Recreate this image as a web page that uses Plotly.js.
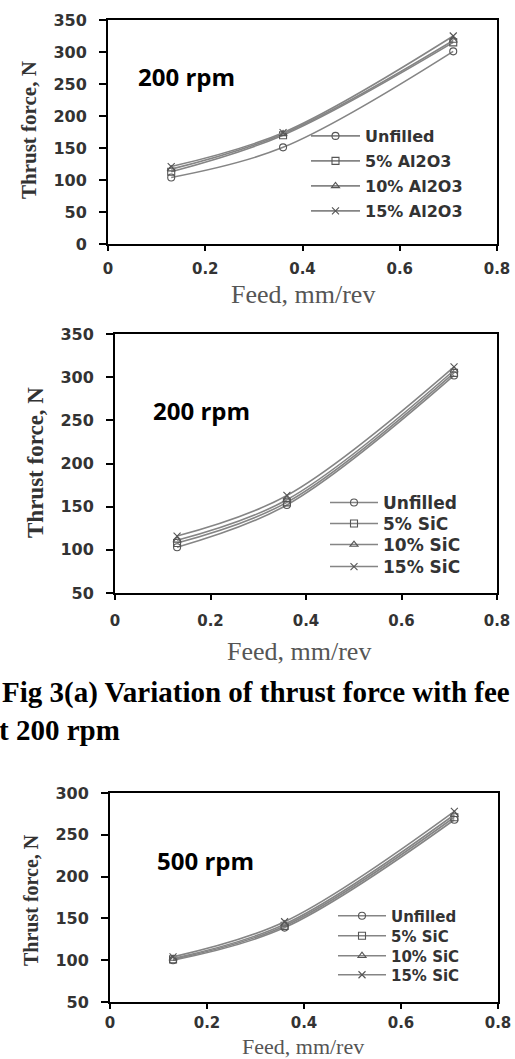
<!DOCTYPE html>
<html>
<head>
<meta charset="utf-8">
<script src="https://cdn.plot.ly/plotly-3.0.1.min.js"></script>
<style>
html,body{margin:0;padding:0;background:#fff;}
#chart{width:515px;height:1059px;}
</style>
</head>
<body>
<div id="chart"></div>
<script>
// ---------- data ----------
const feed = [0.13, 0.36, 0.71];

// Chart 1: 200 rpm, Al2O3 filled
const names1 = ["Unfilled", "5% Al2O3", "10% Al2O3", "15% Al2O3"];
const al_unfilled = [104, 151, 301];
const al_5 = [113, 170, 315];
const al_10 = [117, 172, 318];
const al_15 = [121, 174, 325];

// Chart 2: 200 rpm, SiC filled
const names2 = ["Unfilled", "5% SiC", "10% SiC", "15% SiC"];
const sic200_unfilled = [103, 152, 302];
const sic200_5 = [108, 155, 305];
const sic200_10 = [111, 158, 308];
const sic200_15 = [116, 163, 312];

// Chart 3: 500 rpm, SiC filled
const names3 = ["Unfilled", "5% SiC", "10% SiC", "15% SiC"];
const sic500_unfilled = [100, 139, 268];
const sic500_5 = [101, 141, 271];
const sic500_10 = [102, 143, 274];
const sic500_15 = [104, 146, 278];

const xTitle = "Feed, mm/rev";
const yTitle = "Thrust force, N";
const speedLabels = ["200 rpm", "200 rpm", "500 rpm"];
const captionLine1 = "Fig 3(a) Variation of thrust force with fee";
const captionLine2 = "t 200 rpm";

// ---------- helpers (pixel -> paper) ----------
const W = 515, H = 1059;
const px = v => v / W;
const py = v => 1 - v / H;

const symbols = ["circle-open", "square-open", "triangle-up-open", "x-thin"];
const lineColor = "#858585";
const markColor = "#555";

const charts = [
  {names: names1, series: [al_unfilled, al_5, al_10, al_15], xa: "x", ya: "y",
   legRows: [136, 161, 186, 211], legLineX: 311, legTextX: 365, legFont: 16},
  {names: names2, series: [sic200_unfilled, sic200_5, sic200_10, sic200_15], xa: "x2", ya: "y2",
   legRows: [503, 524, 545, 567], legLineX: 330, legTextX: 383, legFont: 17},
  {names: names3, series: [sic500_unfilled, sic500_5, sic500_10, sic500_15], xa: "x3", ya: "y3",
   legRows: [916, 936, 956, 975], legLineX: 338, legTextX: 391, legFont: 15}
];

const traces = [];
const layout = {
  width: W, height: H,
  margin: {l: 0, r: 0, t: 0, b: 0},
  paper_bgcolor: "#fff", plot_bgcolor: "#fff",
  showlegend: true,
  annotations: []
};

charts.forEach((c, k) => {
  c.series.forEach((ys, i) => {
    const legName = (k * 4 + i) === 0 ? "legend" : "legend" + (k * 4 + i + 1);
    traces.push({
      type: "scatter", mode: "lines+markers",
      x: feed, y: ys, name: c.names[i],
      xaxis: c.xa, yaxis: c.ya,
      legend: legName,
      line: {shape: "spline", smoothing: 1, color: lineColor, width: 1.6},
      marker: {symbol: symbols[i], size: 7, color: markColor, line: {color: markColor, width: 1.1}}
    });
    const iw = c.legTextX - c.legLineX - 5;
    layout[legName] = {
      x: px(c.legLineX - 5), y: py(c.legRows[i]),
      xanchor: "left", yanchor: "middle",
      bgcolor: "rgba(0,0,0,0)", borderwidth: 0,
      itemwidth: iw,
      font: {family: "DejaVu Sans", size: c.legFont, color: "#333", weight: "bold"}
    };
  });
});

// ---------- axes ----------
const tickFontX = {family: "DejaVu Sans", size: 15, color: "#333", weight: "bold"};
const tickFontY = {family: "DejaVu Sans", size: 16, color: "#333", weight: "bold"};
function xax(domain, anchor, standoff) {
  return {domain: domain, anchor: anchor, range: [0, 0.8], dtick: 0.2, tick0: 0,
    showgrid: false, zeroline: false, showline: true, mirror: true,
    linecolor: "#000", linewidth: 2, ticks: "outside", ticklen: 5, tickwidth: 2, tickcolor: "#000",
    tickfont: tickFontX, ticklabelstandoff: standoff, fixedrange: true};
}
function yax(domain, anchor, range) {
  return {domain: domain, anchor: anchor, range: range, dtick: 50,
    showgrid: false, zeroline: false, showline: true, mirror: true,
    linecolor: "#000", linewidth: 2, ticks: "outside", ticklen: 7, tickwidth: 2, tickcolor: "#000",
    tickfont: tickFontY, ticklabelstandoff: 9, fixedrange: true};
}
layout.xaxis = xax([px(108), px(497)], "y", 5);
layout.yaxis = yax([py(244), py(20)], "x", [0, 350]);
layout.xaxis2 = xax([px(115), px(497)], "y2", 8);
layout.yaxis2 = yax([py(593), py(334)], "x2", [50, 350]);
layout.xaxis3 = xax([px(110), px(498)], "y3", 1);
layout.yaxis3 = yax([py(1002), py(793)], "x3", [50, 300]);

// ---------- text ----------
const serif = "Liberation Serif, Times New Roman, serif";
const titlePos = [
  {xt: [303, 294, 26], yt: [29, 130, 21], sp: [136, 77]},
  {xt: [299, 651, 26], yt: [35, 463, 23], sp: [151, 410]},
  {xt: [303, 1046, 22], yt: [31, 900, 20], sp: [155, 860]}
];
titlePos.forEach((t, k) => {
  layout.annotations.push({
    xref: "paper", yref: "paper", x: px(t.xt[0]), y: py(t.xt[1]),
    xanchor: "center", yanchor: "middle", showarrow: false, text: xTitle,
    font: {family: serif, size: t.xt[2], color: "#555"}
  });
  layout.annotations.push({
    xref: "paper", yref: "paper", x: px(t.yt[0]), y: py(t.yt[1]),
    xanchor: "center", yanchor: "middle", showarrow: false, text: yTitle, textangle: -90,
    font: {family: serif, size: t.yt[2], color: "#333", weight: "bold"}
  });
  layout.annotations.push({
    xref: "paper", yref: "paper", x: px(t.sp[0]), y: py(t.sp[1]),
    xanchor: "left", yanchor: "middle", showarrow: false, text: speedLabels[k],
    font: {family: "Open Sans", size: 24, color: "#000", weight: 700}
  });
});
layout.annotations.push({
  xref: "paper", yref: "paper", x: px(0), y: py(692),
  xanchor: "left", yanchor: "middle", showarrow: false, text: "<b>" + captionLine1 + "</b>",
  font: {family: serif, size: 29, color: "#000"}
});
layout.annotations.push({
  xref: "paper", yref: "paper", x: px(-3), y: py(730),
  xanchor: "left", yanchor: "middle", showarrow: false, text: "<b>" + captionLine2 + "</b>",
  font: {family: serif, size: 29, color: "#000"}
});

Plotly.newPlot("chart", traces, layout, {staticPlot: true, displayModeBar: false});
</script>
</body>
</html>
